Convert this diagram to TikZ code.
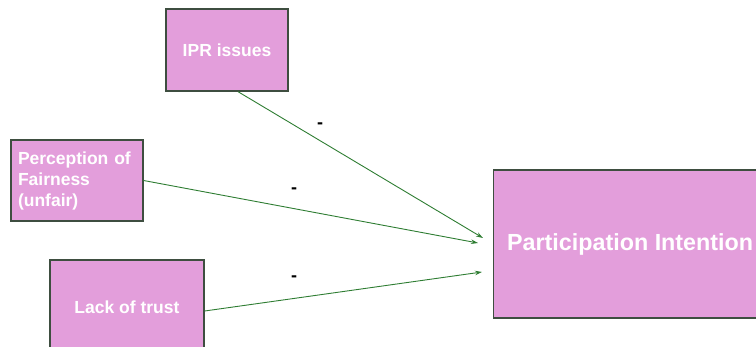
\documentclass[tikz,border=0pt]{standalone}
\usepackage{fontspec}
\setmainfont{Liberation Sans}
\usetikzlibrary{arrows.meta}
\definecolor{boxpink}{HTML}{E39EDB}
\definecolor{boxedge}{HTML}{3E4E40}
\definecolor{arrowgreen}{HTML}{2E7D32}
\begin{document}
\begin{tikzpicture}[x=1pt,y=-1pt]
\tikzstyle{factor}=[draw=boxedge, line width=1.3pt, fill=boxpink, text=white, font=\bfseries\fontsize{17.5}{21}\selectfont, inner sep=0pt]
\tikzstyle{effect}=[draw=arrowgreen, line width=0.9pt, -{Stealth[length=7pt,width=4.5pt]}]
\tikzstyle{sign}=[font=\bfseries\fontsize{18}{18}\selectfont]
\useasboundingbox (0,0) rectangle (756,346);
\clip (0,0) rectangle (756,346);
\node [factor, minimum width=122pt, minimum height=82pt] (ipr) at (227,50) {IPR issues};
\node [factor, minimum width=132pt, minimum height=81pt, align=left, text width=118pt] (fair) at (77,180.5) {\raisebox{-2pt}{\parbox{118pt}{\raggedright Perception of\\Fairness\\(unfair)}}};
\node [factor, minimum width=154pt, minimum height=102pt] (trust) at (127,311) {\raisebox{7pt}{Lack of trust}};
\node [factor, minimum width=300pt, minimum height=148pt, font=\bfseries\fontsize{23.3}{27}\selectfont, anchor=west] (part) at (493,244) {\hspace*{-27pt}Participation Intention};
\coordinate (in1) at (483,238);
\coordinate (in2) at (478,243);
\coordinate (in3) at (482,272);
\draw [effect] (ipr.south -| 238,0) -- (in1);
\draw [effect] (fair.east) -- (in2);
\draw [effect] (trust.east) -- (in3);
\node [sign] (s1) at (320,126) {-};
\node [sign] (s2) at (294,191) {-};
\node [sign] (s3) at (294,279) {-};
\end{tikzpicture}
\end{document}
